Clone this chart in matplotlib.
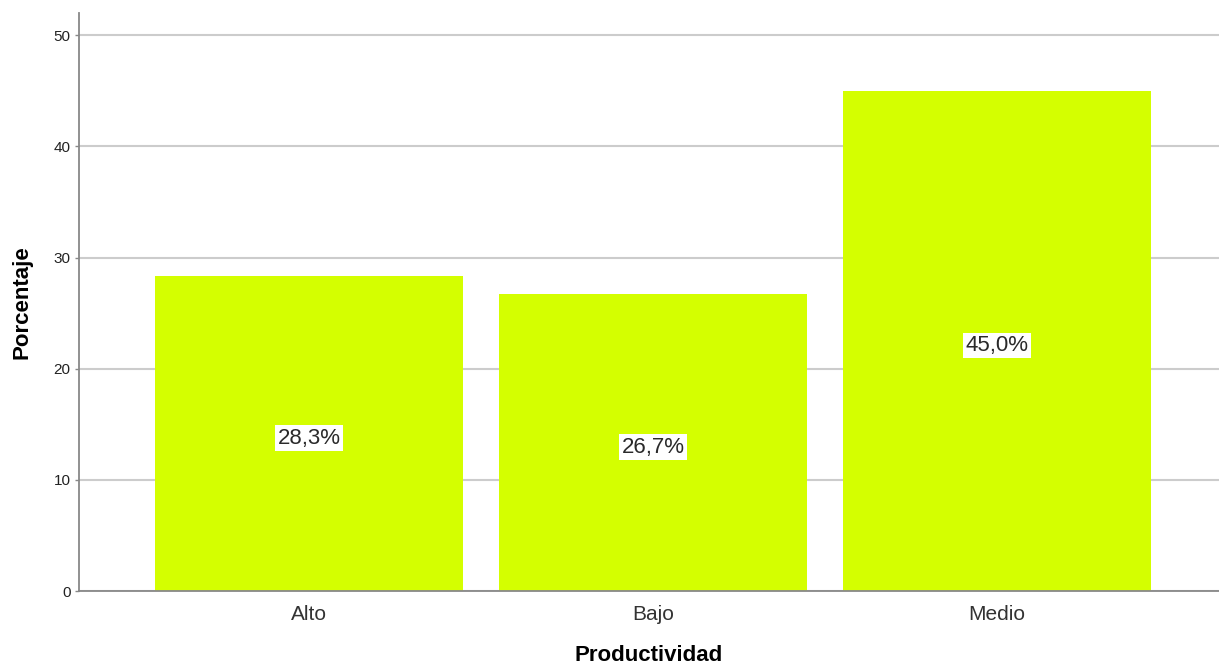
import matplotlib
matplotlib.use("Agg")
import matplotlib.pyplot as plt

# Productividad: porcentaje por categoría
categorias = ["Alto", "Bajo", "Medio"]
porcentajes = [28.3, 26.7, 45.0]
etiquetas = ["28,3%", "26,7%", "45,0%"]
yticks = [0, 10, 20, 30, 40, 50]

plt.rcParams["font.family"] = ["Liberation Sans", "DejaVu Sans"]

fig = plt.figure(figsize=(12.19, 6.71), dpi=100)
ax = fig.add_axes([0.0648, 0.1192, 0.9352, 0.8614])

x = list(range(len(categorias)))
ax.bar(x, porcentajes, width=0.895, color="#d4ff00", zorder=2)

for xi, v, lab in zip(x, porcentajes, etiquetas):
    ax.text(xi, v / 2 - 0.4, lab, ha="center", va="center", fontsize=16,
            color="#2a2a2a", zorder=3,
            bbox=dict(boxstyle="square,pad=0.1", fc="white", ec="none"))

ax.set_xlim(-0.669, 2.645)
ax.set_ylim(0, 52)
ax.set_yticks(yticks)
ax.yaxis.grid(True, color="#cccccc", linewidth=1.5, zorder=0)
ax.set_axisbelow(True)

ax.set_xticks(x)
ax.set_xticklabels(categorias, fontsize=15, color="#333333")
ax.tick_params(axis="x", length=0, pad=10)
ax.tick_params(axis="y", length=3, width=1, color="#888888", labelsize=11,
               labelcolor="#222222", pad=3)

for s in ["top", "right"]:
    ax.spines[s].set_visible(False)
for s in ["left", "bottom"]:
    ax.spines[s].set_color("#888888")
    ax.spines[s].set_linewidth(1.3)

ax.set_xlabel("Productividad", fontsize=16, fontweight="bold", labelpad=15)
ax.set_ylabel("Porcentaje", fontsize=16, fontweight="bold", labelpad=15)

fig.savefig("out.png", dpi=100)
